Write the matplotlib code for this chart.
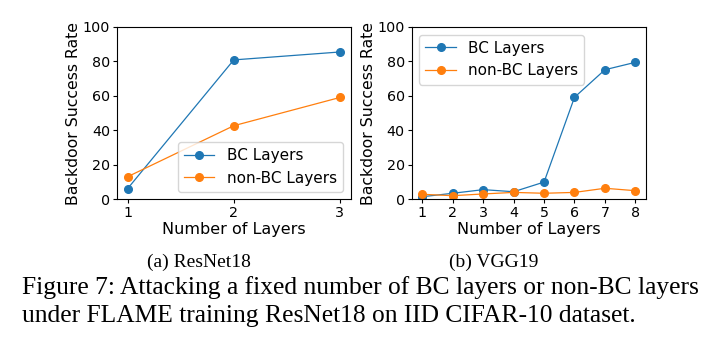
import matplotlib
matplotlib.use("Agg")
import matplotlib.pyplot as plt

# ResNet18 data
resnet_layers = [1, 2, 3]
resnet_bc = [6.2, 80.9, 85.5]
resnet_non_bc = [13.1, 42.7, 59.1]

# VGG19 data
vgg_layers = [1, 2, 3, 4, 5, 6, 7, 8]
vgg_bc = [1.5, 3.5, 5.6, 4.4, 10.0, 59.2, 75.2, 79.5]
vgg_non_bc = [2.9, 2.1, 3.1, 4.0, 3.5, 4.0, 6.4, 5.0]

sub_captions = ['(a) ResNet18', '(b) VGG19']
caption_lines = ['Figure 7: Attacking a fixed number of BC layers or non-BC layers',
                 'under FLAME training ResNet18 on IID CIFAR-10 dataset.']

W, H = 712, 339
fig = plt.figure(figsize=(W / 100, H / 100), dpi=100)


def make_axes(x0, x1, y0, y1):
    return fig.add_axes([x0 / W, 1 - y1 / H, (x1 - x0) / W, (y1 - y0) / H])


ax1 = make_axes(117, 350.5, 27, 199.3)
ax2 = make_axes(411.7, 646, 27, 199.3)

for ax, xs, bc, nbc, loc in [(ax1, resnet_layers, resnet_bc, resnet_non_bc, 'lower right'),
                             (ax2, vgg_layers, vgg_bc, vgg_non_bc, 'upper left')]:
    ax.plot(xs, bc, marker='o', color='#1f77b4', lw=0.9, ms=5.5, label='BC Layers')
    ax.plot(xs, nbc, marker='o', color='#ff7f0e', lw=0.9, ms=5.5, label='non-BC Layers')
    ax.set_ylim(0, 100)
    ax.set_xticks(xs)
    ax.set_yticks([0, 20, 40, 60, 80, 100])
    ax.tick_params(labelsize=10.3, length=3, pad=2)
    ax.set_xlabel('Number of Layers', fontsize=11.5, labelpad=1)
    ax.set_ylabel('Backdoor Success Rate', fontsize=11.3, labelpad=1)
    ax.legend(loc=loc, fontsize=11, handlelength=2.0, borderpad=0.4)

fig.text(199 / W, 1 - 262 / H, sub_captions[0], ha='center', va='center',
         family='Liberation Serif', fontsize=14)
fig.text(494 / W, 1 - 262 / H, sub_captions[1], ha='center', va='center',
         family='Liberation Serif', fontsize=14)
for i, line in enumerate(caption_lines):
    fig.text(22 / W, 1 - (294 + 28 * i) / H, line, ha='left', va='baseline',
             family='Liberation Serif', fontsize=18.4)

fig.savefig('out.png', dpi=100)
